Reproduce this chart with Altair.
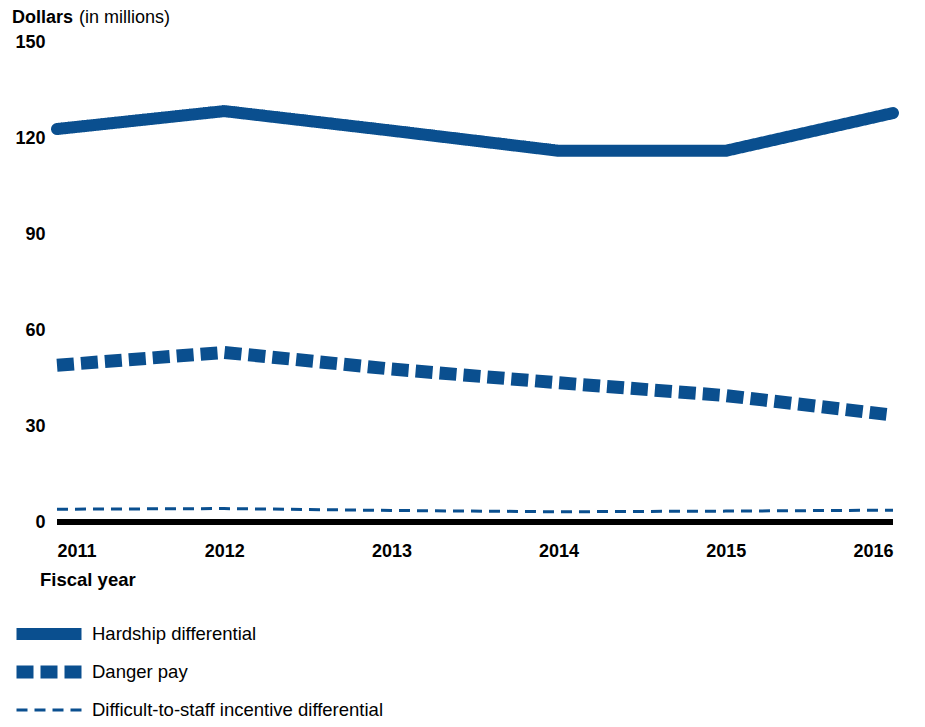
import altair as alt
import pandas as pd

years = [2011, 2012, 2013, 2014, 2015, 2016]
hardship = [122.8, 128.4, 122.3, 116.0, 116.0, 127.8]
danger = [49.0, 53.0, 47.8, 43.5, 39.5, 33.4]
difficult = [4.0, 4.2, 3.6, 3.2, 3.4, 3.7]
series_names = ["Hardship differential", "Danger pay",
                "Difficult-to-staff incentive differential"]
y_ticks = [0, 30, 60, 90, 120, 150]

rows = []
for name, vals in zip(series_names, [hardship, danger, difficult]):
    for yr, v in zip(years, vals):
        rows.append({"year": yr, "value": v, "series": name})
df = pd.DataFrame(rows)

BLUE = "#0a4f8f"
FONT = "Liberation Sans"
W, H = 836, 480

x_enc = alt.X("year:Q",
              scale=alt.Scale(domain=[years[0], years[-1]], nice=False, zero=False),
              axis=alt.Axis(values=years, format="d", title=None, grid=False,
                            domain=False, ticks=False, labelFontWeight="bold",
                            labelFontSize=18, labelPadding=20, labelColor="black",
                            labelFont=FONT))
y_enc = alt.Y("value:Q",
              scale=alt.Scale(domain=[0, 150], nice=False),
              axis=alt.Axis(values=y_ticks, title=None, grid=False, domain=False,
                            ticks=False, labelFontWeight="bold", labelFontSize=18,
                            labelPadding=12, labelColor="black", labelFont=FONT))

legend = alt.Legend(orient="none", legendX=-47, legendY=584, title=None,
                    symbolType="stroke", symbolSize=4225, symbolStrokeColor=BLUE,
                    labelFont=FONT, labelFontSize=18.5, labelColor="black",
                    labelOffset=4, labelLimit=500, clipHeight=16, rowPadding=19,
                    direction="vertical")

dash = alt.StrokeDash("series:N",
                      scale=alt.Scale(domain=series_names,
                                      range=[[1, 0], [17, 7], [11, 7]]),
                      legend=legend)
swidth = alt.StrokeWidth("series:N",
                         scale=alt.Scale(type="ordinal", domain=series_names,
                                         range=[12, 13, 3]),
                         legend=legend)

base = alt.Chart(df).encode(x=x_enc, y=y_enc, strokeDash=dash, strokeWidth=swidth)

hard_line = base.transform_filter(
    alt.datum.series == series_names[0]
).mark_line(color=BLUE, strokeCap="round", strokeJoin="round")

other_lines = base.transform_filter(
    alt.datum.series != series_names[0]
).mark_line(color=BLUE, strokeCap="butt", strokeJoin="miter")

baseline = alt.Chart(pd.DataFrame({"y": [0], "x": [years[0]], "x2": [years[-1]]})).mark_rule(
    color="black", strokeWidth=6
).encode(x="x:Q", x2="x2:Q", y="y:Q")

title_df = pd.DataFrame({"t": [0]})
t1 = alt.Chart(title_df).mark_text(text="Dollars", font=FONT, fontSize=18,
                                   fontWeight="bold", align="left",
                                   baseline="middle", color="black").encode(
    x=alt.value(-45), y=alt.value(-24))
t2 = alt.Chart(title_df).mark_text(text="(in millions)", font=FONT, fontSize=18,
                                   align="left", baseline="middle",
                                   color="black").encode(
    x=alt.value(22), y=alt.value(-24))
t3 = alt.Chart(title_df).mark_text(text="Fiscal year", font=FONT, fontSize=18.5,
                                   fontWeight="bold", align="left",
                                   baseline="middle", color="black").encode(
    x=alt.value(-17), y=alt.value(538))

chart = alt.layer(baseline, other_lines, hard_line, t1, t2, t3).properties(
    width=W, height=H,
    background="white",
    autosize=alt.AutoSizeParams(type="none"),
    padding={"left": 49, "top": 34, "right": 24, "bottom": 197},
).configure_view(strokeWidth=0, stroke=None)

chart.save("out.html", embed_options={"renderer": "svg", "actions": False})
